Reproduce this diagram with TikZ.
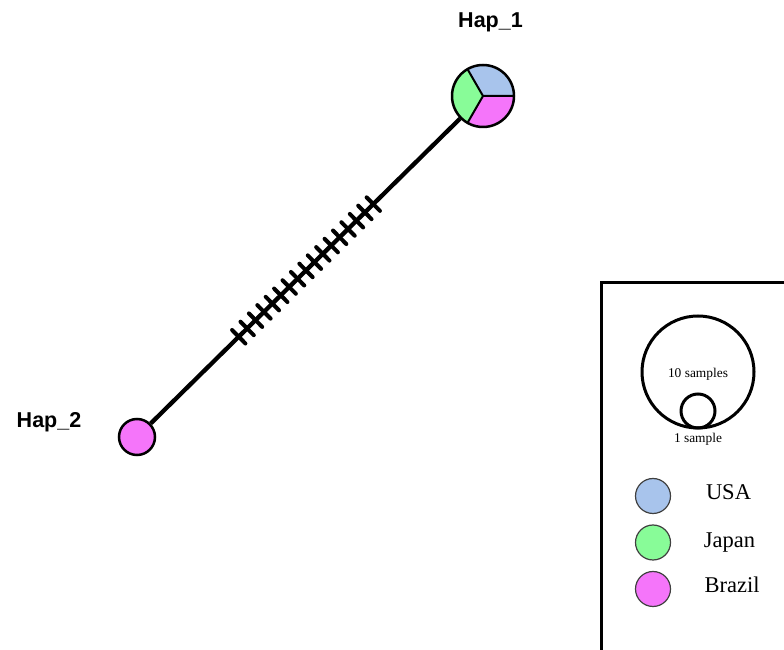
\documentclass[tikz,border=0pt]{standalone}
\usepackage{fontspec}
\newfontfamily\hapfont{Liberation Sans}
\newfontfamily\keyfont{Liberation Serif}
\usetikzlibrary{calc}
\definecolor{usa}{RGB}{168,196,236}
\definecolor{japan}{RGB}{136,252,152}
\definecolor{brazil}{RGB}{245,117,250}
\tikzset{
  hapnode/.style={circle, inner sep=0pt, line width=2.5pt},
  haplabel/.style={font=\hapfont\bfseries\fontsize{21.5}{25}\selectfont, anchor=base},
  link/.style={line width=4.3pt},
  mutation/.style={line width=4pt, line cap=round},
  keybox/.style={line width=3pt},
  sizering/.style={line width=3pt},
  swatch/.style={circle, draw=black!75, line width=1.2pt, minimum size=35pt, inner sep=0pt},
  keytext/.style={font=\keyfont\fontsize{22.5}{26}\selectfont, anchor=base},
  sizetext/.style={font=\keyfont\fontsize{13.4}{15}\selectfont, anchor=base},
}
\begin{document}
\begin{tikzpicture}[x=1pt,y=1pt]
\useasboundingbox (0,0) rectangle (784,650);
\clip (0,0) rectangle (784,650);
\fill[white] (0,0) rectangle (784,650);

% haplotype nodes
\node[hapnode, minimum size=62pt] (hap1) at (483,554) {};
\node[hapnode, draw, fill=brazil, minimum size=36pt] (hap2) at (137,213) {};

% pie slices of Hap_1
\fill[usa]    (hap1.center) -- ++(0:31pt)   arc[start angle=0,   end angle=120, radius=31pt] -- cycle;
\fill[japan]  (hap1.center) -- ++(120:31pt) arc[start angle=120, end angle=240, radius=31pt] -- cycle;
\fill[brazil] (hap1.center) -- ++(240:31pt) arc[start angle=240, end angle=360, radius=31pt] -- cycle;
\draw[line width=2pt] (hap1.center) -- ++(0:31pt)
      (hap1.center) -- ++(120:31pt)
      (hap1.center) -- ++(240:31pt);
\draw[line width=2.5pt] (hap1.center) circle[radius=31pt];

% labels
\node[haplabel] (lab1) at (490.5,622) {Hap\_1};
\node[haplabel] (lab2) at (49,222) {Hap\_2};

% connecting edge with mutation marks
\draw[link] (hap2) -- (hap1);
\foreach \k in {0,...,16}{
  \pgfmathsetmacro\pos{0.294+0.0243*\k}
  \coordinate (m\k) at ($(hap2.center)!\pos!(hap1.center)$);
  \draw[mutation] ($(m\k)!9.5pt!90:(hap1.center)$) -- ($(m\k)!9.5pt!-90:(hap1.center)$);
}

% legend frame
\coordinate (boxtr) at (790,367);
\coordinate (boxtl) at (601,367);
\coordinate (boxbl) at (601,-6);
\draw[keybox] (boxtr) -- (boxtl) -- (boxbl);

% sample size key
\node[circle, draw, sizering, minimum size=112pt, inner sep=0pt] (ten) at (698,278) {};
\node[circle, draw, sizering, minimum size=34pt, inner sep=0pt] (one) at (698,239) {};
\node[sizetext] (tentext) at (698,272) {10 samples};
\node[sizetext] (onetext) at (698,207) {1 sample};

% colour key
\node[swatch, fill=usa]    (kusa)    at (653,154) {};
\node[swatch, fill=japan]  (kjapan)  at (653,107.5) {};
\node[swatch, fill=brazil] (kbrazil) at (653,61) {};
\node[keytext] (tusa)    at (728.5,150) {USA};
\node[keytext] (tjapan)  at (729.5,102) {Japan};
\node[keytext] (tbrazil) at (732,57) {Brazil};
\end{tikzpicture}
\end{document}
